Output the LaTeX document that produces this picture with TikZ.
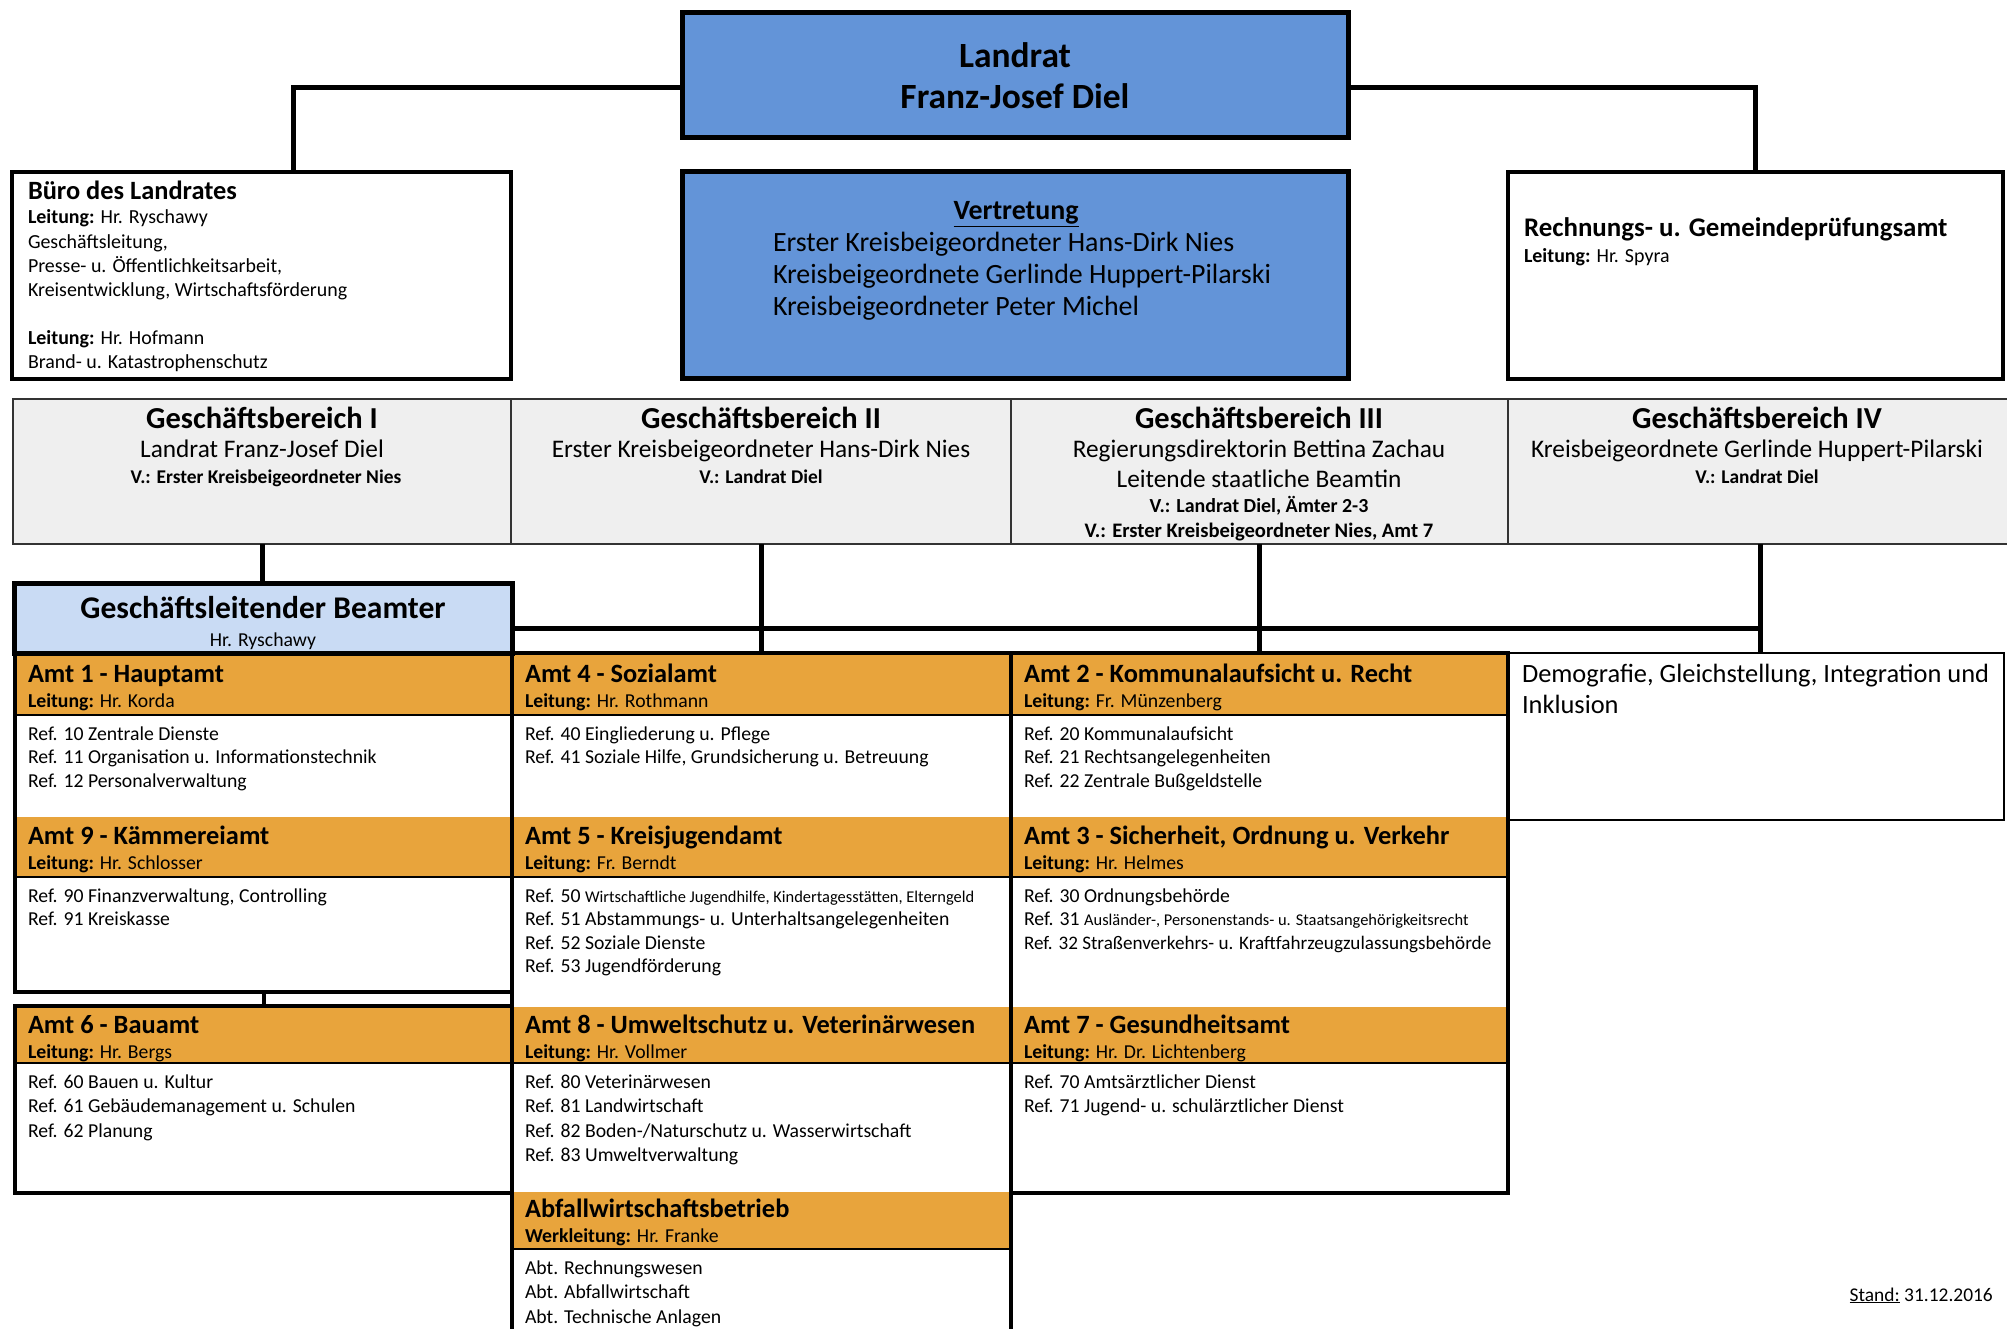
\documentclass[tikz,border=0pt]{standalone}
\usepackage{fontspec}
\setmainfont{Carlito}
\usetikzlibrary{fit}
\definecolor{lrblue}{HTML}{6394D8}
\definecolor{glblue}{HTML}{C9DBF4}
\definecolor{amtorange}{HTML}{E8A43C}
\definecolor{gbgrey}{HTML}{EFEFEF}
\definecolor{gbline}{HTML}{333333}
\newcommand\fs[2]{\fontsize{#1}{#2}\selectfont}
% list of lines, one node per line: name prefix, x, first baseline, step, font, items
\newcommand\linelist[6]{%
  \foreach \t [count=\i] in {#6} {%
    \node[txt, font=#5] (#1-\i) at (#2, {#3+#4*(\i-1)}) {\t};}}
\begin{document}
\begin{tikzpicture}[x=1bp,y=-1bp,
  box/.style={rectangle, inner sep=0pt, outer sep=0pt},
  txt/.style={anchor=base west, inner sep=0pt, outer sep=0pt},
  ctxt/.style={anchor=base, inner sep=0pt, outer sep=0pt},
  topbox/.style={box, draw=black, line width=5bp},
  sidebox/.style={box, draw=black, line width=4.5bp, fill=white},
  gbcell/.style={box, draw=gbline, line width=2bp, fill=gbgrey},
  colbox/.style={box, draw=black, line width=3.5bp},
  hdr/.style={box, fill=amtorange},
  sep/.style={draw=black, line width=1.8bp},
  conn/.style={draw=black, line width=5bp},
  ttl/.style={font=\fs{26.5}{30}\bfseries},
  small/.style={font=\fs{19.8}{24}},
]
\useasboundingbox (0,0) rectangle (2007,1329);
\fill[white] (0,0) rectangle (2007,1329);

% ---------- top level ----------
\node[topbox, fill=lrblue, fit={(682,13) (1348,138)}] (landrat) {};
\node[topbox, fill=lrblue, fit={(682,172) (1348,379)}] (vertr) {};
\node[sidebox, fit={(12,172) (511,379)}] (buero) {};
\node[sidebox, fit={(1508,172) (2003,379)}] (rech) {};

\draw[conn] ([yshift=-12bp]landrat.west) -| ([xshift=31.5bp]buero.north);
\draw[conn] ([yshift=-12bp]landrat.east) -| (rech.north);

\node[ctxt, font=\fs{35.6}{41}\bfseries] (lr1) at (1015,68) {Landrat};
\node[ctxt, font=\fs{35.6}{41}\bfseries] (lr2) at (1015,109) {Franz-Josef Diel};

\node[ctxt, font=\fs{28}{32}\bfseries] (vt0) at (1016,220) {\underline{Vertretung}};
\linelist{vt}{773}{252}{32}{\fs{28}{32}}{Erster Kreisbeigeordneter Hans-Dirk Nies,
  Kreisbeigeordnete Gerlinde Huppert-Pilarski, Kreisbeigeordneter Peter Michel}

\node[txt, font=\fs{26.5}{30}\bfseries] (bu0) at (28,200) {Büro des Landrates};
\linelist{bu}{28}{224}{24.3}{\fs{20}{24}}{{\textbf{Leitung:} Hr. Ryschawy}, Geschäftsleitung{,},
  Presse- u. Öffentlichkeitsarbeit{,}, {Kreisentwicklung, Wirtschaftsförderung}}
\node[txt, font=\fs{20}{24}] (bu5) at (28,345) {\textbf{Leitung:} Hr. Hofmann};
\node[txt, font=\fs{20}{24}] (bu6) at (28,369) {Brand- u. Katastrophenschutz};

\node[txt, font=\fs{27}{30}\bfseries] (re0) at (1524,237) {Rechnungs- u. Gemeindeprüfungsamt};
\node[txt, font=\fs{20}{24}] (re1) at (1524,263) {\textbf{Leitung:} Hr. Spyra};

% ---------- Geschäftsbereiche ----------
\node[gbcell, fit={(13,399) (511,544)}] (gb1) {};
\node[gbcell, fit={(511,399) (1011,544)}] (gb2) {};
\node[gbcell, fit={(1011,399) (1508,544)}] (gb3) {};
\node[gbcell, fit={(1508,399) (2012,544)}] (gb4) {};

\tikzset{gbt/.style={ctxt, font=\fs{30.6}{34}\bfseries},
         gbn/.style={ctxt, font=\fs{25.4}{30}},
         gbv/.style={ctxt, font=\fs{19.5}{24}\bfseries}}
\node[gbt] (g1a) at (262,428) {Geschäftsbereich I};
\node[gbn] (g1b) at (262,457) {Landrat Franz-Josef Diel};
\node[gbv] (g1c) at (266,483) {V.: Erster Kreisbeigeordneter Nies};
\node[gbt] (g2a) at (761,428) {Geschäftsbereich II};
\node[gbn] (g2b) at (761,457) {Erster Kreisbeigeordneter Hans-Dirk Nies};
\node[gbv] (g2c) at (761,483) {V.: Landrat Diel};
\node[gbt] (g3a) at (1259,428) {Geschäftsbereich III};
\node[gbn] (g3b) at (1259,457) {Regierungsdirektorin Bettina Zachau};
\node[gbn] (g3c) at (1259,487) {Leitende staatliche Beamtin};
\node[gbv, font=\fs{20}{24}\bfseries] (g3d) at (1259,512) {V.: Landrat Diel, Ämter 2-3};
\node[gbv, font=\fs{20.7}{24}\bfseries] (g3e) at (1259,537) {V.: Erster Kreisbeigeordneter Nies, Amt 7};
\node[gbt] (g4a) at (1757,428) {Geschäftsbereich IV};
\node[gbn] (g4b) at (1757,457) {Kreisbeigeordnete Gerlinde Huppert-Pilarski};
\node[gbv] (g4c) at (1757,483) {V.: Landrat Diel};

% ---------- Ämter: header fills ----------
\node[hdr, fit={(15,653) (512,715)}] (h1) {};
\node[hdr, fit={(512,653) (1011,715)}] (h4) {};
\node[hdr, fit={(1011,653) (1508,715)}] (h2) {};
\node[hdr, fit={(15,817) (512,877)}] (h9) {};
\node[hdr, fit={(512,817) (1011,877)}] (h5) {};
\node[hdr, fit={(1011,817) (1508,877)}] (h3) {};
\node[hdr, fit={(15,1006) (512,1063)}] (h6) {};
\node[hdr, fit={(512,1007) (1011,1063)}] (h8) {};
\node[hdr, fit={(1011,1007) (1508,1063)}] (h7) {};
\node[hdr, fit={(512,1192) (1011,1249)}] (hab) {};
\foreach \h in {h1,h4,h2,h9,h5,h3,h6,h8,h7,hab}
  \draw[sep] (\h.south west) -- (\h.south east);

% ---------- Ämter: column frames ----------
\node[colbox, fit={(15,653) (512,992)}] (col1a) {};
\node[colbox, fit={(15,1006) (512,1193)}] (col1b) {};
\node[colbox, fit={(512,653) (1011,1345)}] (col2) {};
\node[colbox, fit={(1011,653) (1508,1193)}] (col3) {};
\node[box, draw=black, line width=2.5bp, fit={(1508,653) (2004,820)}] (demo) {};

\node[box, draw=black, line width=5bp, fill=glblue, fit={(14,583) (512,653)}] (gl) {};
\node[ctxt, font=\fs{31.7}{36}\bfseries] (gl1) at (263,618) {Geschäftsleitender Beamter};
\node[ctxt, font=\fs{19.8}{24}] (gl2) at (263,646) {Hr. Ryschawy};

% ---------- connectors ----------
\coordinate (bus) at (0,628);
\draw[conn] (gb1.south) -- (gb1.south |- gl.north);
\draw[conn] (gb2.south) -- (gb2.south |- col2.north);
\draw[conn] (gb3.south) -- (gb3.south |- col3.north);
\draw[conn] (gb4.south) -- (gb4.south |- demo.north);
\draw[conn] (gl.east |- bus) -- (gb4.south |- bus);
\draw[draw=black, line width=4bp] (col1a.south) -- (col1b.north);

% ---------- Ämter: texts ----------
\newcommand\amt[8]{% name, x, title baseline, title, leitung, first body baseline, body step, items
  \node[txt, ttl] (#1-t) at (#2,#3) {#4};
  \node[txt, small] (#1-l) at (#2,{#3+25}) {#5};
  \linelist{#1}{#2}{#6}{#7}{\fs{19.8}{24}}{#8}}

\amt{a1}{28}{682}{Amt 1 - Hauptamt}{\textbf{Leitung:} Hr. Korda}{740}{23.5}
  {Ref. 10 Zentrale Dienste, Ref. 11 Organisation u. Informationstechnik, Ref. 12 Personalverwaltung}
\amt{a4}{525}{682}{Amt 4 - Sozialamt}{\textbf{Leitung:} Hr. Rothmann}{740}{23.5}
  {Ref. 40 Eingliederung u. Pflege, {Ref. 41 Soziale Hilfe, Grundsicherung u. Betreuung}}
\amt{a2}{1024}{682}{Amt 2 - Kommunalaufsicht u. Recht}{\textbf{Leitung:} Fr. Münzenberg}{740}{23.5}
  {Ref. 20 Kommunalaufsicht, Ref. 21 Rechtsangelegenheiten, Ref. 22 Zentrale Bußgeldstelle}

\amt{a9}{28}{844}{Amt 9 - Kämmereiamt}{\textbf{Leitung:} Hr. Schlosser}{902}{23.5}
  {{Ref. 90 Finanzverwaltung, Controlling}, Ref. 91 Kreiskasse}
\amt{a5}{525}{844}{Amt 5 - Kreisjugendamt}{\textbf{Leitung:} Fr. Berndt}{902}{23.5}
  {{Ref. 50 {\fs{16.5}{24}Wirtschaftliche Jugendhilfe, Kindertagesstätten, Elterngeld}},
   Ref. 51 Abstammungs- u. Unterhaltsangelegenheiten, Ref. 52 Soziale Dienste, Ref. 53 Jugendförderung}
\amt{a3}{1024}{844}{Amt 3 - Sicherheit, Ordnung u. Verkehr}{\textbf{Leitung:} Hr. Helmes}{902}{23.5}
  {Ref. 30 Ordnungsbehörde, {Ref. 31 {\fs{16.5}{24}Ausländer-, Personenstands- u. Staatsangehörigkeitsrecht}},
   {\fs{19.2}{24}Ref. 32 Straßenverkehrs- u. Kraftfahrzeugzulassungsbehörde}}

\amt{a6}{28}{1033}{Amt 6 - Bauamt}{\textbf{Leitung:} Hr. Bergs}{1088}{24.5}
  {Ref. 60 Bauen u. Kultur, Ref. 61 Gebäudemanagement u. Schulen, Ref. 62 Planung}
\amt{a8}{525}{1033}{Amt 8 - Umweltschutz u. Veterinärwesen}{\textbf{Leitung:} Hr. Vollmer}{1088}{24.5}
  {Ref. 80 Veterinärwesen, Ref. 81 Landwirtschaft, Ref. 82 Boden-/Naturschutz u. Wasserwirtschaft,
   Ref. 83 Umweltverwaltung}
\amt{a7}{1024}{1033}{Amt 7 - Gesundheitsamt}{\textbf{Leitung:} Hr. Dr. Lichtenberg}{1088}{24.5}
  {Ref. 70 Amtsärztlicher Dienst, Ref. 71 Jugend- u. schulärztlicher Dienst}
\amt{ab}{525}{1217}{Abfallwirtschaftsbetrieb}{\textbf{Werkleitung:} Hr. Franke}{1274}{24.5}
  {Abt. Rechnungswesen, Abt. Abfallwirtschaft, Abt. Technische Anlagen}

\linelist{dm}{1522}{682}{31}{\fs{26.5}{31}}{{Demografie, Gleichstellung, Integration und}, Inklusion}

\node[anchor=base east, inner sep=0pt, font=\fs{19.5}{24}] (stand) at (1993,1301)
  {\underline{Stand:} 31.12.2016};
\end{tikzpicture}
\end{document}
